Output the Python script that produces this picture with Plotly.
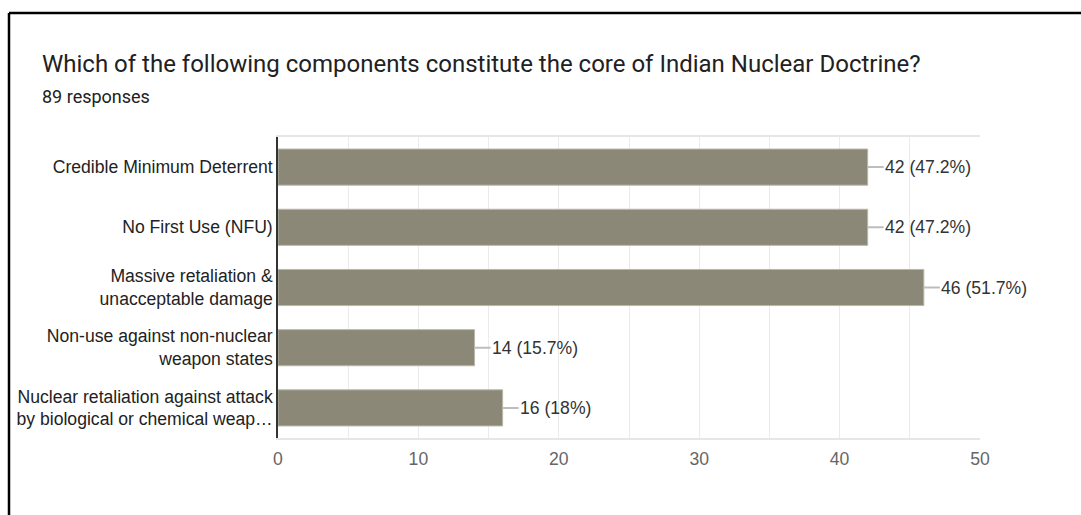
import plotly.graph_objects as go

# Survey results
categories = [
    "Credible Minimum Deterrent",
    "No First Use (NFU)",
    "Massive retaliation &<br>unacceptable damage",
    "Non-use against non-nuclear<br>weapon states",
    "Nuclear retaliation against attack<br>by biological or chemical weap…",
]
counts = [42, 42, 46, 14, 16]
percents = ["47.2%", "47.2%", "51.7%", "15.7%", "18%"]
x_ticks = [0, 10, 20, 30, 40, 50]

title_text = "Which of the following components constitute the core of Indian Nuclear Doctrine?"
subtitle_text = "89 responses"

W, H = 1081, 515
L, R, T, B = 278, 980, 137, 438


def px_x(x):
    return (x - L) / (R - L)


def px_y(y):
    return (B - y) / (B - T)


BAR = "#8b8877"
SANS = "Liberation Sans, Arial, sans-serif"
LABEL_FONT = dict(family=SANS, size=17.6, color="#222222")

fig = go.Figure(
    go.Bar(
        x=counts,
        y=categories,
        orientation="h",
        marker=dict(color=BAR, line=dict(color="#b9b7aa", width=1)),
        hoverinfo="skip",
    )
)

# value labels joined to the bar ends by short leader lines
for cat, n, p in zip(categories, counts, percents):
    fig.add_annotation(
        x=n, y=cat, xref="x", yref="y",
        text=f"{n} ({p})",
        showarrow=True, arrowhead=0, arrowwidth=2, arrowcolor="#bdbdbd",
        ax=16, ay=0, xanchor="left", yanchor="middle",
        borderpad=0,
        font=dict(family=SANS, size=17.6, color="#333333"),
    )

# heading
fig.add_annotation(
    x=px_x(40), y=px_y(64), xref="paper", yref="paper",
    text=title_text, showarrow=False, xanchor="left", yanchor="middle",
    font=dict(family="Roboto, sans-serif", size=24, color="#212121"),
)
fig.add_annotation(
    x=px_x(40), y=px_y(96), xref="paper", yref="paper",
    text=subtitle_text, showarrow=False, xanchor="left", yanchor="middle",
    font=dict(family="Roboto, sans-serif", size=18, color="#212121"),
)

# frame around the card
fig.add_shape(type="line", xref="paper", yref="paper",
              x0=px_x(9), x1=px_x(W + 5), y0=px_y(13), y1=px_y(13),
              line=dict(color="#000000", width=2.5))
fig.add_shape(type="line", xref="paper", yref="paper",
              x0=px_x(9), x1=px_x(9), y0=px_y(13), y1=px_y(H + 5),
              line=dict(color="#000000", width=2.5))

fig.update_layout(
    width=W, height=H,
    margin=dict(l=L, r=W - R, t=T, b=H - B),
    paper_bgcolor="white", plot_bgcolor="white",
    bargap=0.4,
    showlegend=False,
    xaxis=dict(
        range=[0, 50],
        tickvals=x_ticks,
        ticktext=[str(v) for v in x_ticks],
        showgrid=True, gridcolor="#ebebeb", gridwidth=1,
        minor=dict(dtick=5, showgrid=True, gridcolor="#ebebeb", gridwidth=1),
        showline=True, linecolor="#e6e6e6", linewidth=2, mirror=True,
        zeroline=False,
        ticks="",
        ticklabelstandoff=4,
        tickfont=dict(family=SANS, size=17.6, color="#666666"),
        fixedrange=True,
    ),
    yaxis=dict(
        categoryorder="array", categoryarray=categories,
        autorange="reversed",
        showgrid=False, zeroline=False,
        showline=True, linecolor="#333333", linewidth=1.5,
        ticks="",
        ticklabelstandoff=0,
        tickfont=LABEL_FONT,
        fixedrange=True,
    ),
)

fig.write_html("out.html")
